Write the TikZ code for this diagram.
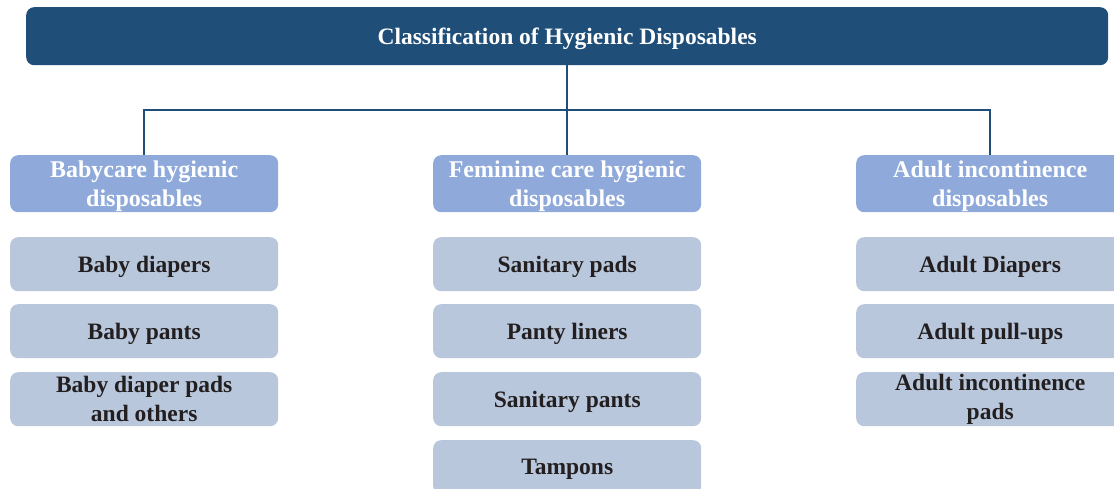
\documentclass[tikz,border=0pt]{standalone}
\usepackage{fontspec}
\setmainfont{Liberation Serif}
\definecolor{topblue}{RGB}{31,78,121}
\definecolor{catblue}{RGB}{143,170,218}
\definecolor{itemblue}{RGB}{184,199,219}
\definecolor{txtdark}{RGB}{35,31,32}
\begin{document}
\begin{tikzpicture}[x=1pt,y=-1pt,
  base/.style={rounded corners=8pt,minimum width=268pt,inner sep=0pt,align=center,font=\bfseries\fontsize{23.5}{28.5}\selectfont,anchor=north west},
  titlebox/.style={base,fill=topblue,text=white,minimum width=1082pt,minimum height=58pt,text depth=0pt,font=\bfseries\fontsize{23.5}{28}\selectfont},
  catbox/.style={base,fill=catblue,text=white,minimum height=57pt,text depth=0pt,font=\bfseries\fontsize{24}{28.5}\selectfont},
  itembox/.style={base,fill=itemblue,text=txtdark,minimum height=54pt,text depth=0pt},
  itemboxtwo/.style={base,fill=itemblue,text=txtdark,minimum height=54pt},
  conn/.style={draw=topblue,line width=1.8pt}]
\useasboundingbox (0,0) rectangle (1114,489);
\node[titlebox] (top) at (26,7) {Classification of Hygienic Disposables};
\node[catbox] (c1) at (10,155) {Babycare hygienic\\disposables};
\node[catbox] (c2) at (433,155) {Feminine care hygienic\\disposables};
\node[catbox] (c3) at (856,155) {Adult incontinence\\disposables};
\node[itembox] (a1) at (10,237) {Baby diapers};
\node[itembox] (a2) at (10,304) {Baby pants};
\node[itemboxtwo] (a3) at (10,372) {Baby diaper pads\\and others};
\node[itembox] (b1) at (433,237) {Sanitary pads};
\node[itembox] (b2) at (433,304) {Panty liners};
\node[itembox] (b3) at (433,372) {Sanitary pants};
\node[itembox] (b4) at (433,440) {Tampons};
\node[itembox] (d1) at (856,237) {Adult Diapers};
\node[itembox] (d2) at (856,304) {Adult pull-ups};
\node[itemboxtwo] (d3) at (856,372) {Adult incontinence\\pads};
\coordinate (hub) at (top.south |- 0,110);
\draw[conn] (top.south) -- (hub);
\draw[conn] (hub) -| (c1.north);
\draw[conn] (hub) -- (c2.north);
\draw[conn] (hub) -| (c3.north);
\end{tikzpicture}
\end{document}
